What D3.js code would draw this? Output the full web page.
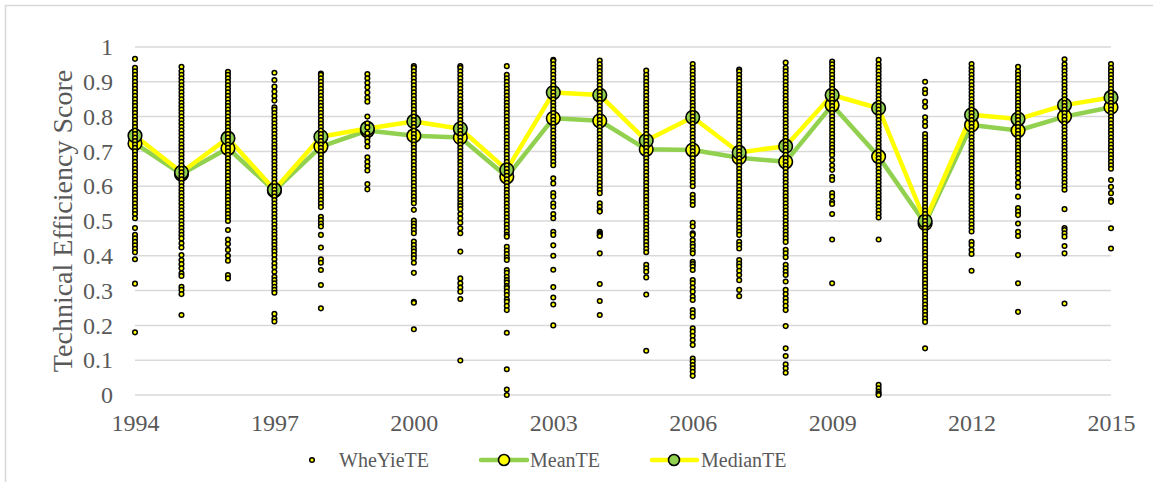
<!DOCTYPE html>
<html>
<head>
<meta charset="utf-8">
<script src="https://cdn.jsdelivr.net/npm/d3@7"></script>
<style>
  html, body { margin: 0; padding: 0; background: #fff; }
  svg { display: block; }
  text { font-family: "Liberation Serif", "Times New Roman", serif; fill: #595959; }
</style>
</head>
<body>
<svg id="chart" width="1153" height="482"></svg>
<script>
const years = [1994,1995,1996,1997,1998,1999,2000,2001,2002,2003,2004,2005,2006,2007,2008,2009,2010,2011,2012,2013,2014,2015];
const xTickYears = [1994,1997,2000,2003,2006,2009,2012,2015];
const yTickValues = [0,0.1,0.2,0.3,0.4,0.5,0.6,0.7,0.8,0.9,1];
const meanTE   = [0.723,0.635,0.709,0.587,0.714,0.760,0.745,0.740,0.627,0.795,0.788,0.706,0.704,0.682,0.670,0.833,0.685,0.493,0.776,0.760,0.800,0.827];
const medianTE = [0.745,0.640,0.738,0.590,0.742,0.766,0.786,0.765,0.647,0.869,0.862,0.731,0.798,0.697,0.715,0.862,0.824,0.500,0.805,0.793,0.833,0.855];

// WheYieTE observations, per year
const te1994 = [.966,.94,.93,.92,.91,.90,.89,.88,.87,.86,.85,.84,.83,.82,.81,.80,.79,.78,.77,.76,.75,.74,.73,.72,.71,.70,.69,.68,.67,.66,.65,.64,.63,.62,.61,.60,.59,.58,.57,.56,.55,.54,.53,.52,.508,.48,.46,.45,.44,.43,.42,.41,.39,.32,.18];
const te1995 = [.943,.93,.92,.91,.90,.89,.88,.87,.86,.85,.84,.83,.82,.81,.80,.79,.78,.77,.76,.75,.74,.73,.72,.71,.70,.69,.68,.67,.66,.65,.64,.63,.62,.61,.60,.59,.58,.57,.56,.55,.54,.53,.52,.51,.50,.49,.48,.47,.46,.45,.436,.424,.402,.388,.376,.364,.35,.342,.311,.302,.29,.23];
const te1996 = [.929,.92,.91,.90,.89,.88,.87,.86,.85,.84,.83,.82,.81,.80,.79,.78,.77,.76,.75,.74,.73,.72,.71,.70,.69,.68,.67,.66,.65,.64,.63,.62,.61,.60,.59,.58,.57,.56,.55,.54,.53,.52,.51,.50,.474,.447,.434,.417,.40,.386,.345,.335];
const te1997 = [.926,.905,.886,.872,.859,.846,.827,.82,.81,.80,.79,.78,.77,.76,.75,.74,.73,.72,.71,.70,.69,.68,.67,.66,.65,.64,.63,.62,.61,.60,.59,.58,.57,.56,.55,.54,.53,.52,.51,.50,.49,.48,.47,.46,.45,.44,.431,.421,.412,.402,.39,.378,.367,.354,.34,.33,.321,.311,.302,.294,.233,.22,.211];
const te1998 = [.924,.92,.91,.90,.89,.88,.87,.86,.85,.84,.83,.82,.81,.80,.79,.78,.77,.76,.75,.74,.73,.72,.71,.70,.69,.68,.67,.66,.65,.64,.63,.62,.61,.60,.59,.58,.57,.56,.55,.54,.512,.503,.493,.484,.46,.424,.39,.38,.359,.316,.249];
const te1999 = [.922,.91,.897,.884,.869,.855,.843,.80,.781,.769,.752,.738,.728,.714,.683,.67,.658,.645,.606,.591];
const te2000 = [.945,.94,.93,.92,.91,.90,.89,.88,.87,.86,.85,.84,.83,.82,.81,.80,.79,.78,.77,.76,.75,.74,.73,.72,.71,.70,.69,.68,.67,.66,.65,.64,.63,.62,.61,.60,.59,.58,.57,.56,.551,.532,.501,.493,.484,.474,.465,.441,.431,.421,.412,.402,.393,.38,.351,.268,.265,.189];
const te2001 = [.945,.94,.93,.92,.91,.90,.89,.88,.87,.86,.85,.84,.83,.82,.81,.80,.79,.78,.77,.76,.75,.74,.73,.72,.71,.70,.69,.68,.67,.66,.65,.64,.63,.62,.61,.60,.59,.58,.57,.56,.551,.543,.534,.52,.508,.495,.479,.465,.412,.335,.321,.309,.297,.276,.099];
const te2002 = [.945,.92,.91,.90,.89,.88,.87,.86,.85,.84,.83,.82,.81,.80,.79,.78,.77,.76,.75,.74,.73,.72,.71,.70,.69,.68,.67,.66,.65,.64,.63,.62,.61,.60,.59,.58,.57,.56,.55,.54,.53,.52,.51,.50,.49,.48,.47,.46,.455,.426,.415,.405,.395,.388,.359,.351,.34,.33,.323,.313,.307,.297,.287,.275,.268,.256,.244,.179,.074,.016,0];
const te2003 = [.963,.96,.95,.94,.93,.92,.91,.90,.89,.88,.87,.86,.85,.84,.83,.82,.81,.80,.79,.78,.77,.76,.75,.74,.73,.72,.71,.70,.69,.68,.67,.66,.623,.608,.58,.57,.551,.541,.52,.508,.469,.46,.43,.40,.36,.31,.28,.26,.20];
const te2004 = [.961,.95,.94,.93,.92,.91,.90,.89,.88,.87,.86,.85,.84,.83,.82,.81,.80,.79,.78,.77,.76,.75,.74,.73,.72,.71,.70,.69,.68,.67,.66,.65,.64,.63,.62,.61,.60,.59,.58,.551,.541,.53,.527,.469,.465,.46,.457,.407,.319,.27,.23];
const te2005 = [.932,.92,.91,.90,.89,.88,.87,.86,.85,.84,.83,.82,.81,.80,.79,.78,.77,.76,.75,.74,.73,.72,.71,.70,.69,.68,.67,.66,.65,.64,.63,.62,.61,.60,.59,.58,.57,.56,.55,.54,.53,.52,.51,.50,.49,.48,.47,.46,.45,.44,.43,.42,.41,.374,.364,.354,.338,.289,.127];
const te2006 = [.951,.94,.93,.92,.91,.90,.89,.88,.87,.86,.85,.84,.83,.82,.81,.80,.79,.78,.77,.76,.75,.74,.73,.72,.71,.70,.69,.68,.67,.66,.65,.64,.63,.62,.61,.60,.575,.565,.555,.546,.495,.484,.465,.46,.445,.434,.426,.415,.407,.383,.376,.369,.359,.33,.321,.309,.297,.283,.273,.244,.235,.225,.192,.182,.17,.158,.144,.105,.096,.086,.077,.067,.055];
const te2007 = [.935,.93,.92,.91,.90,.89,.88,.87,.86,.85,.84,.83,.82,.81,.80,.79,.78,.77,.76,.75,.74,.73,.72,.71,.70,.69,.68,.67,.66,.65,.64,.63,.62,.61,.60,.59,.58,.57,.56,.55,.54,.53,.52,.51,.50,.49,.48,.47,.46,.44,.431,.421,.388,.378,.369,.357,.345,.33,.302,.284];
const te2008 = [.955,.94,.93,.92,.91,.90,.89,.88,.87,.86,.85,.84,.83,.82,.81,.80,.79,.78,.77,.76,.75,.74,.73,.72,.71,.70,.69,.68,.67,.66,.65,.64,.63,.62,.61,.60,.59,.58,.57,.56,.55,.54,.53,.52,.51,.50,.49,.48,.47,.46,.45,.44,.417,.407,.396,.374,.364,.354,.345,.326,.302,.29,.278,.268,.256,.244,.198,.134,.112,.088,.077,.064];
const te2009 = [.958,.95,.94,.93,.92,.91,.90,.89,.88,.87,.86,.85,.84,.83,.82,.81,.80,.79,.78,.77,.76,.75,.74,.73,.72,.71,.70,.69,.675,.66,.647,.627,.618,.58,.57,.555,.549,.52,.447,.321];
const te2010 = [.963,.95,.94,.93,.92,.91,.90,.89,.88,.87,.86,.85,.84,.83,.82,.81,.80,.79,.78,.77,.76,.75,.74,.73,.72,.71,.70,.69,.68,.67,.66,.65,.64,.63,.62,.61,.60,.59,.58,.57,.56,.55,.54,.53,.52,.51,.447,.029,.019,.01,.004,0];
const te2011 = [.90,.878,.867,.843,.828,.798,.785,.773,.75,.74,.73,.72,.71,.70,.69,.68,.67,.66,.65,.64,.63,.62,.61,.60,.59,.58,.57,.56,.55,.54,.53,.52,.51,.50,.49,.48,.47,.46,.45,.44,.43,.42,.41,.40,.39,.38,.37,.36,.35,.34,.33,.32,.31,.30,.29,.28,.27,.26,.25,.24,.23,.22,.21,.134];
const te2012 = [.951,.94,.93,.92,.91,.90,.89,.88,.87,.86,.85,.84,.83,.82,.81,.80,.79,.78,.77,.76,.75,.74,.73,.72,.71,.70,.69,.68,.67,.66,.65,.64,.63,.62,.61,.60,.59,.58,.57,.56,.55,.54,.53,.52,.51,.50,.49,.48,.47,.44,.431,.417,.405,.357];
const te2013 = [.943,.93,.92,.91,.90,.89,.88,.87,.86,.85,.84,.83,.82,.81,.80,.79,.78,.77,.76,.75,.74,.73,.72,.71,.70,.69,.68,.67,.66,.65,.638,.625,.61,.598,.57,.537,.527,.517,.493,.469,.457,.402,.321,.239];
const te2014 = [.965,.95,.94,.93,.92,.91,.90,.89,.88,.87,.86,.85,.84,.83,.82,.81,.80,.79,.78,.77,.76,.75,.74,.73,.72,.71,.70,.69,.68,.67,.66,.65,.64,.63,.62,.61,.60,.59,.534,.48,.474,.465,.455,.428,.407,.263];
const te2015 = [.951,.94,.93,.92,.91,.90,.89,.88,.87,.86,.85,.84,.83,.82,.81,.80,.79,.78,.77,.76,.75,.74,.73,.72,.71,.70,.69,.68,.67,.66,.65,.618,.598,.58,.56,.555,.479,.421];
const wheYieTE = [te1994,te1995,te1996,te1997,te1998,te1999,te2000,te2001,te2002,te2003,te2004,te2005,te2006,te2007,te2008,te2009,te2010,te2011,te2012,te2013,te2014,te2015];
const legendLabels = ["WheYieTE", "MeanTE", "MedianTE"];

const GREEN = "#92D050", YELLOW = "#FFFF00", GRID = "#D9D9D9", TEXT = "#595959";
const svg = d3.select("#chart");

// chart border (only top/left visible in the crop)
svg.append("rect").attr("x", 5.5).attr("y", 5.5).attr("width", 1170).attr("height", 500)
  .attr("fill", "none").attr("stroke", GRID).attr("stroke-width", 1.5);

const x = d3.scaleLinear().domain([1994, 2015]).range([135, 1111]);
const y = d3.scaleLinear().domain([0, 1]).range([395, 47]);

// gridlines
svg.append("g").selectAll("line").data(yTickValues).join("line")
  .attr("x1", x(1994)).attr("x2", x(2015))
  .attr("y1", d => y(d)).attr("y2", d => y(d))
  .attr("stroke", GRID).attr("stroke-width", 1.5);

// y axis labels
const yAxis = svg.append("g").attr("transform", `translate(${x(1994)},0)`)
  .call(d3.axisLeft(y).tickValues(yTickValues).tickSize(0).tickPadding(22)
    .tickFormat(d => String(+d.toFixed(1))));
yAxis.select(".domain").remove();
yAxis.selectAll("text").style("font-size", "24px").attr("fill", TEXT)
  .style("font-family", '"Liberation Serif", "Times New Roman", serif');

// x axis labels
const xAxis = svg.append("g").attr("transform", `translate(0,${y(0)})`)
  .call(d3.axisBottom(x).tickValues(xTickYears).tickSize(0).tickPadding(19)
    .tickFormat(d3.format("d")));
xAxis.select(".domain").remove();
xAxis.selectAll("text").style("font-size", "24px").attr("fill", TEXT)
  .style("font-family", '"Liberation Serif", "Times New Roman", serif');

// y axis title
svg.append("text").attr("transform", `translate(72,${(y(0) + y(1)) / 2}) rotate(-90)`)
  .attr("text-anchor", "middle").style("font-size", "28px").text("Technical Efficiency Score");

// lines
const line = d3.line().x((d, i) => x(years[i])).y(d => y(d));
svg.append("path").datum(meanTE).attr("d", line).attr("fill", "none")
  .attr("stroke", GREEN).attr("stroke-width", 4.5).attr("stroke-linejoin", "round").attr("stroke-linecap", "round");
svg.append("path").datum(medianTE).attr("d", line).attr("fill", "none")
  .attr("stroke", YELLOW).attr("stroke-width", 4.5).attr("stroke-linejoin", "round").attr("stroke-linecap", "round");

// markers
svg.append("g").selectAll("circle").data(meanTE).join("circle")
  .attr("cx", (d, i) => x(years[i])).attr("cy", d => y(d)).attr("r", 6.8)
  .attr("fill", YELLOW).attr("stroke", "#000").attr("stroke-width", 1.6);
svg.append("g").selectAll("circle").data(medianTE).join("circle")
  .attr("cx", (d, i) => x(years[i])).attr("cy", d => y(d)).attr("r", 6.8)
  .attr("fill", GREEN).attr("stroke", "#000").attr("stroke-width", 1.6);

// scatter observations
const pts = [];
wheYieTE.forEach((arr, i) => arr.forEach(v => pts.push([years[i], v])));
svg.append("g").selectAll("circle").data(pts).join("circle")
  .attr("cx", d => x(d[0])).attr("cy", d => y(d[1])).attr("r", 2.3)
  .attr("fill", YELLOW).attr("stroke", "#000").attr("stroke-width", 1.5);

// legend
const ly = 460;
const lg = svg.append("g").style("font-size", "20px");
lg.append("circle").attr("cx", 312).attr("cy", ly).attr("r", 2.3)
  .attr("fill", YELLOW).attr("stroke", "#000").attr("stroke-width", 1.5);
lg.append("text").attr("x", 339).attr("y", ly).attr("dy", "0.35em").text(legendLabels[0]);

lg.append("line").attr("x1", 481).attr("x2", 527).attr("y1", ly).attr("y2", ly)
  .attr("stroke", GREEN).attr("stroke-width", 4.5).attr("stroke-linecap", "round");
lg.append("circle").attr("cx", 504).attr("cy", ly).attr("r", 5.5)
  .attr("fill", YELLOW).attr("stroke", "#000").attr("stroke-width", 1.6);
lg.append("text").attr("x", 530).attr("y", ly).attr("dy", "0.35em").text(legendLabels[1]);

lg.append("line").attr("x1", 652).attr("x2", 697).attr("y1", ly).attr("y2", ly)
  .attr("stroke", YELLOW).attr("stroke-width", 4.5).attr("stroke-linecap", "round");
lg.append("circle").attr("cx", 674).attr("cy", ly).attr("r", 5.5)
  .attr("fill", GREEN).attr("stroke", "#000").attr("stroke-width", 1.6);
lg.append("text").attr("x", 701).attr("y", ly).attr("dy", "0.35em").text(legendLabels[2]);
</script>
</body>
</html>
